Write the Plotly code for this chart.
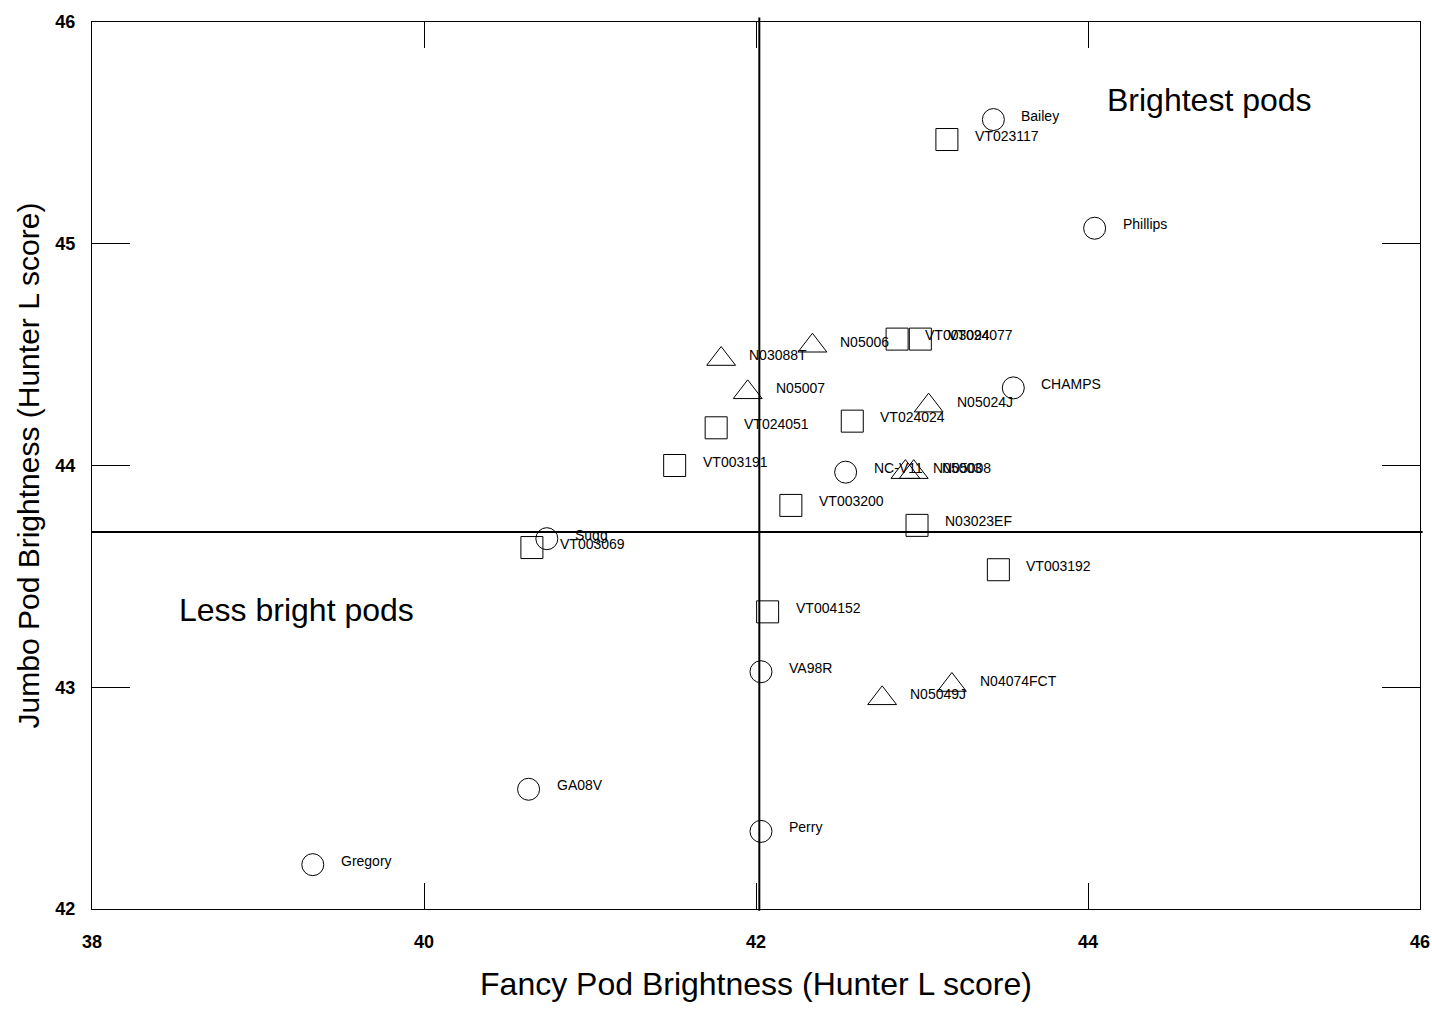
import plotly.graph_objects as go

FONT = "Liberation Sans, Arial, sans-serif"

circle_names = ["Bailey", "Phillips", "CHAMPS", "NC-V11", "Sugg", "VA98R", "GA08V", "Perry", "Gregory"]
circle_x = [43.43, 44.04, 43.55, 42.54, 40.74, 42.03, 40.63, 42.03, 39.33]
circle_y = [45.56, 45.07, 44.35, 43.97, 43.67, 43.07, 42.54, 42.35, 42.20]

square_names = ["VT023117", "VT003094", "VT024077", "VT024051", "VT024024", "VT003191",
                "VT003200", "N03023EF", "VT003069", "VT003192", "VT004152"]
square_x = [43.15, 42.85, 42.99, 41.76, 42.58, 41.51, 42.21, 42.97, 40.65, 43.46, 42.07]
square_y = [45.47, 44.57, 44.57, 44.17, 44.20, 44.00, 43.82, 43.73, 43.63, 43.53, 43.34]

tri_names = ["N03088T", "N05006", "N05007", "N05024J", "N05003", "N05008", "N05049J", "N04074FCT"]
tri_x = [41.79, 42.34, 41.95, 43.04, 42.90, 42.95, 42.76, 43.18]
tri_y = [44.48, 44.54, 44.33, 44.27, 43.97, 43.97, 42.95, 43.01]

x_mean = 42.02
y_mean = 43.70

quadrant_labels = ["Brightest pods", "Less bright pods"]
quadrant_x = [44.73, 39.23]
quadrant_y = [45.65, 43.35]

fig = go.Figure()

for xs, ys, sym, sz in [(circle_x, circle_y, "circle-open", 22),
                        (square_x, square_y, "square-open", 22),
                        (tri_x, tri_y, "triangle-up-open", 25)]:
    fig.add_trace(go.Scatter(
        x=xs, y=ys, mode="markers",
        marker=dict(symbol=sym, size=sz, color="black", line=dict(width=1, color="black")),
        showlegend=False, hoverinfo="skip"))

annotations = []
for names, xs, ys in [(circle_names, circle_x, circle_y),
                      (square_names, square_x, square_y),
                      (tri_names, tri_x, tri_y)]:
    for n, xv, yv in zip(names, xs, ys):
        annotations.append(dict(x=xv, y=yv, text=n, showarrow=False, xanchor="left",
                                yanchor="middle", xshift=26, yshift=4,
                                font=dict(family=FONT, size=14, color="black")))

for t, xv, yv in zip(quadrant_labels, quadrant_x, quadrant_y):
    annotations.append(dict(x=xv, y=yv, text=t, showarrow=False, xanchor="center",
                            yanchor="middle", font=dict(family=FONT, size=32, color="black")))

fig.update_layout(
    width=1432, height=1009,
    margin=dict(l=92, r=12, t=22, b=100),
    plot_bgcolor="white", paper_bgcolor="white",
    font=dict(family=FONT, color="black"),
    annotations=annotations,
    shapes=[
        dict(type="line", xref="x", yref="paper", x0=x_mean, x1=x_mean, y0=-0.002, y1=1.005,
             line=dict(color="black", width=2)),
        dict(type="line", xref="paper", yref="y", x0=0, x1=1.002, y0=y_mean, y1=y_mean,
             line=dict(color="black", width=2)),
    ],
)

fig.update_xaxes(range=[38, 46], tickvals=[38, 40, 42, 44, 46], ticks="inside", ticklen=26,
                 tickcolor="black", mirror="ticks", showline=True, linecolor="black", linewidth=1,
                 showgrid=False, zeroline=False, automargin=False, ticklabelstandoff=16,
                 tickfont=dict(family=FONT, size=18, color="black", weight="bold"),
                 title=dict(text="Fancy Pod Brightness (Hunter L score)",
                            font=dict(family=FONT, size=32, color="black"), standoff=22))
fig.update_yaxes(range=[42, 46], tickvals=[42, 43, 44, 45, 46], ticks="inside", ticklen=38,
                 tickcolor="black", mirror="ticks", showline=True, linecolor="black", linewidth=1,
                 showgrid=False, zeroline=False, automargin=False, ticklabelstandoff=12,
                 tickfont=dict(family=FONT, size=18, color="black", weight="bold"),
                 title=dict(text="Jumbo Pod Brightness (Hunter L score)",
                            font=dict(family=FONT, size=30, color="black"), standoff=6))

fig.write_html("out.html")
